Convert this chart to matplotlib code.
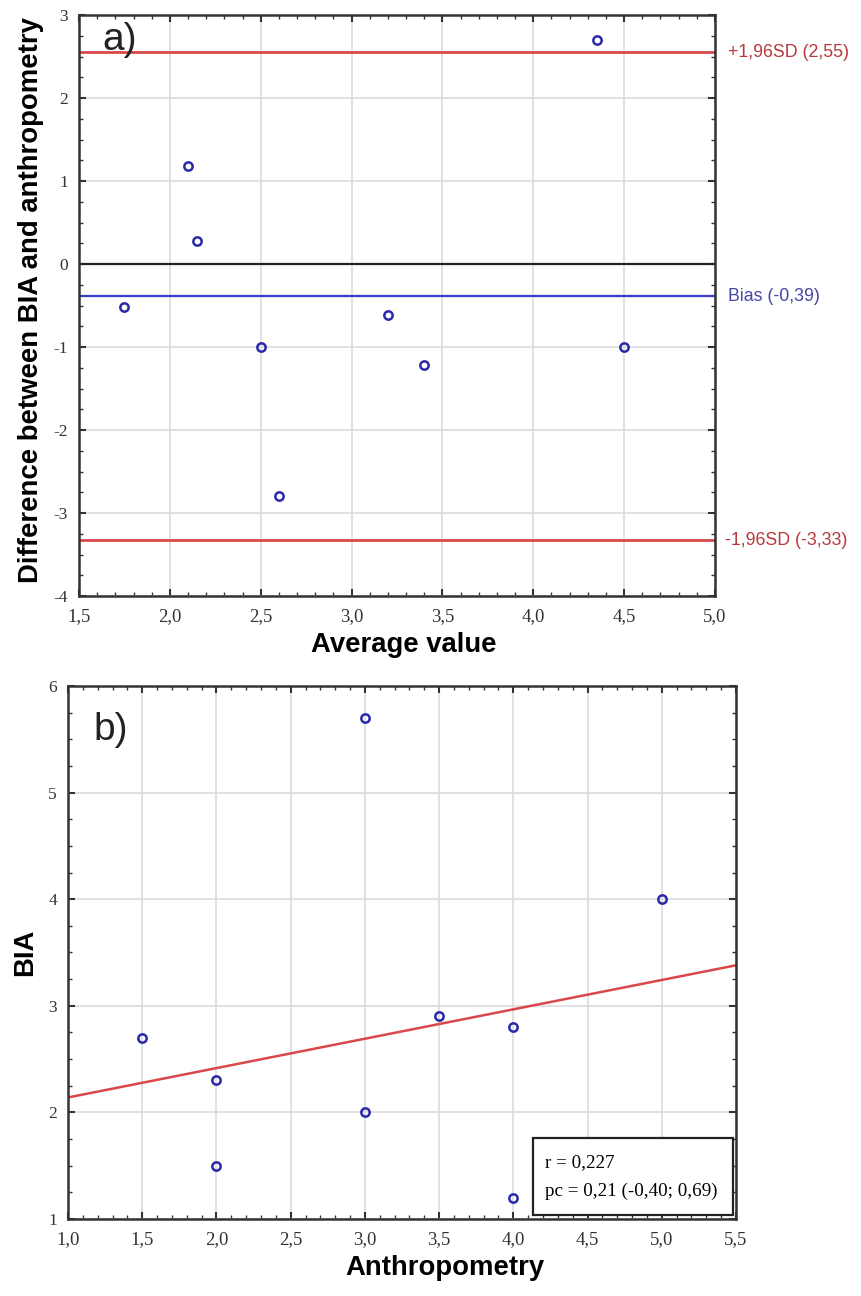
import numpy as np
import matplotlib
matplotlib.use('Agg')
import matplotlib.pyplot as plt
from matplotlib.ticker import MultipleLocator, FuncFormatter

plt.rcParams['axes.unicode_minus'] = False

# a) Bland-Altman data
avg_vals = [1.75, 2.10, 2.15, 2.50, 2.60, 3.20, 3.40, 4.35, 4.50]
diff_vals = [-0.52, 1.18, 0.28, -1.00, -2.80, -0.61, -1.22, 2.70, -1.00]
bias = -0.39
upper_loa = 2.55
lower_loa = -3.33

# b) correlation data
anthro = [1.5, 2.0, 2.0, 3.0, 3.0, 3.5, 4.0, 4.0, 5.0]
bia = [2.7, 2.3, 1.5, 2.0, 5.7, 2.9, 2.8, 1.2, 4.0]
fit_x = [1.0, 5.5]
fit_y = [2.14, 3.38]

RED = '#d9474a'
BLUE = '#3a3ac8'
PT = '#2a2aa8'
SPINE = '#333333'
GRID = '#dcdcdc'
SERIF = 'Liberation Serif'
SANS = 'Liberation Sans'

comma1 = FuncFormatter(lambda v, p: f'{v:.1f}'.replace('.', ','))
intfmt = FuncFormatter(lambda v, p: f'{v:.0f}')


def style_axes(ax, xminor, yminor):
    for s in ax.spines.values():
        s.set_color(SPINE)
        s.set_linewidth(1.8)
    ax.xaxis.set_minor_locator(MultipleLocator(xminor))
    ax.yaxis.set_minor_locator(MultipleLocator(yminor))
    ax.tick_params(which='both', direction='in', top=True, right=True, color=SPINE)
    ax.tick_params(which='major', length=5, width=1.5)
    ax.tick_params(which='minor', length=3, width=1)
    ax.tick_params(axis='x', pad=9, labelsize=13.5)
    ax.tick_params(axis='y', pad=8, labelsize=12.5)
    for lab in ax.get_xticklabels() + ax.get_yticklabels():
        lab.set_fontfamily(SERIF)
        lab.set_color('#333333')
    ax.grid(True, which='major', color=GRID, linewidth=1.2)
    ax.set_axisbelow(True)


fig = plt.figure(figsize=(8.61, 12.96), dpi=100)

# ---- panel a ----
ax1 = fig.add_axes([79/861, 1-596/1296, 636/861, 581/1296])
ax1.set_xlim(1.5, 5.0)
ax1.set_ylim(-4, 3)
ax1.xaxis.set_major_locator(MultipleLocator(0.5))
ax1.yaxis.set_major_locator(MultipleLocator(1))
ax1.xaxis.set_major_formatter(comma1)
ax1.yaxis.set_major_formatter(intfmt)
style_axes(ax1, 0.1, 0.25)

ax1.axhline(0, color='#222222', lw=1.6, zorder=2)
ax1.axhline(upper_loa, color=RED, lw=2, zorder=2)
ax1.axhline(lower_loa, color=RED, lw=2, zorder=2)
ax1.axhline(bias, color=BLUE, lw=1.6, zorder=2)
ax1.plot(avg_vals, diff_vals, 'o', mfc='none', mec=PT, ms=6, mew=1.8, zorder=3)

ax1.text(1.02, upper_loa, '+1,96SD (2,55)', transform=ax1.get_yaxis_transform(),
         color='#b8393c', fontsize=12.8, family=SANS, va='center', ha='left')
ax1.text(1.02, bias, 'Bias (-0,39)', transform=ax1.get_yaxis_transform(),
         color='#4545a8', fontsize=12.8, family=SANS, va='center', ha='left')
ax1.text(1.015, lower_loa, '-1,96SD (-3,33)', transform=ax1.get_yaxis_transform(),
         color='#b8393c', fontsize=12.8, family=SANS, va='center', ha='left')
fig.text(102/861, 1-50/1296, 'a)', fontsize=28, family=SANS, color='#222222',
         ha='left', va='baseline')

fig.text(31/861, 1-300/1296, 'Difference between BIA and anthropometry', rotation=90,
         fontsize=19.8, fontweight='bold', family=SANS, ha='center', va='center')
fig.text(404/861, 1-645/1296, 'Average value', fontsize=19.8, fontweight='bold',
         family=SANS, ha='center', va='center')

# ---- panel b ----
ax2 = fig.add_axes([68/861, 1-1219/1296, 668/861, 533/1296])
ax2.set_xlim(1.0, 5.5)
ax2.set_ylim(1, 6)
ax2.xaxis.set_major_locator(MultipleLocator(0.5))
ax2.yaxis.set_major_locator(MultipleLocator(1))
ax2.xaxis.set_major_formatter(comma1)
ax2.yaxis.set_major_formatter(intfmt)
style_axes(ax2, 0.1, 0.25)

ax2.plot(fit_x, fit_y, color=RED, lw=1.8, zorder=2)
ax2.plot(anthro, bia, 'o', mfc='none', mec=PT, ms=6, mew=1.8, zorder=3)

fig.text(93/861, 1-740/1296, 'b)', fontsize=28, family=SANS, color='#222222',
         ha='left', va='baseline')

box = plt.Rectangle((533/861, 1-1215/1296), 200/861, 77/1296, transform=fig.transFigure,
                    facecolor='white', edgecolor='#222222', lw=1.6, zorder=5)
fig.patches.append(box)
fig.text(545/861, 1-1163/1296, 'r = 0,227', fontsize=13.7, family=SERIF,
         ha='left', va='center', zorder=6)
fig.text(545/861, 1-1191/1296, 'pc = 0,21 (-0,40; 0,69)', fontsize=13.7, family=SERIF,
         ha='left', va='center', zorder=6)

fig.text(25/861, 1-952/1296, 'BIA', rotation=90, fontsize=19.8, fontweight='bold',
         family=SANS, ha='center', va='center')
fig.text(445/861, 1-1268/1296, 'Anthropometry', fontsize=19.8, fontweight='bold',
         family=SANS, ha='center', va='center')

fig.savefig('out.png', dpi=100)
